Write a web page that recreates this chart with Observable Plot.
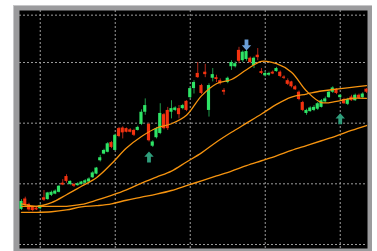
<!DOCTYPE html>
<html><head><meta charset="utf-8">
<script src="https://cdn.jsdelivr.net/npm/d3@7"></script>
<script src="https://cdn.jsdelivr.net/npm/@observablehq/plot@0.6"></script>
<style>
html,body{margin:0;padding:0;background:#fff;}
#wrap{position:relative;width:377px;height:251px;overflow:hidden;}
#frame{position:absolute;left:13px;top:5px;width:359px;height:250px;background:#9b9b9d;border-top:1px solid #c6c6c8;border-left:1px solid #c6c6c8;box-sizing:border-box;}
#chart{position:absolute;left:0;top:0;}
</style></head>
<body><div id="wrap"><div id="frame"></div><div id="chart"></div></div>
<script>
// OHLC per bar (bar index = position)
const opens = [105.8,107.5,106.6,106.2,106.0,105.9,107.7,107.4,108.1,108.3,
108.6,110.1,111.2,109.9,109.9,109.7,109.9,110.1,110.3,111.0,
111.6,113.8,114.9,115.2,116.8,115.5,119.1,119.2,119.1,118.9,
118.8,118.8,119.8,121.8,119.8,116.2,117.6,118.3,121.4,122.1,
121.8,122.1,122.4,122.4,123.6,124.2,125.7,128.2,126.2,128.4,
122.1,127.4,127.5,127.0,125.4,126.7,129.3,129.3,132.0,130.3,
130.5,130.7,129.5,131.2,128.5,127.8,127.9,128.4,128.5,128.4,
127.6,127.0,126.8,126.0,125.1,123.4,121.6,121.9,122.1,122.3,
122.6,123.5,124.2,125.1,125.6,124.2,123.9,123.1,124.3,123.7,
124.6,124.2,125.6];
const highs = [107.4,107.8,106.8,106.3,106.2,106.6,108.9,108.6,108.8,109.0,
109.7,110.7,111.5,110.5,110.1,110.2,110.4,110.7,111.0,112.0,
112.7,114.7,115.7,116.8,117.0,118.2,119.3,119.4,119.2,119.1,
119.0,119.5,122.2,124.0,120.0,117.1,119.3,123.2,121.6,122.6,
123.7,122.7,122.9,123.1,123.7,126.0,127.0,130.0,126.4,129.7,
126.5,129.0,127.9,127.3,125.7,127.6,130.3,130.1,132.5,131.9,
132.0,130.9,130.9,132.3,129.0,128.5,128.4,128.6,129.2,128.6,
127.8,127.3,126.9,126.2,125.3,123.6,122.3,122.7,122.9,123.4,
123.9,124.3,125.3,126.0,125.7,124.7,124.1,124.1,124.6,124.8,
124.8,125.0,125.7];
const lows = [105.6,106.3,105.5,105.4,105.6,105.7,107.1,107.3,107.9,108.2,
108.5,109.7,110.1,109.7,109.4,109.6,109.8,110.0,110.2,110.9,
111.5,113.6,114.8,115.1,115.8,115.4,117.6,117.4,118.4,118.4,
117.8,118.7,119.6,121.3,116.9,116.0,117.4,118.1,118.9,118.8,
120.7,121.9,120.7,122.2,121.9,124.0,124.8,127.4,124.7,127.5,
121.0,126.8,126.7,126.3,124.6,126.5,128.7,129.1,129.8,130.0,
130.2,129.8,129.0,130.3,128.0,127.6,127.7,128.0,128.4,127.5,
127.2,126.2,125.8,125.4,123.7,121.9,121.3,121.8,121.9,122.1,
122.5,123.3,124.1,124.9,124.7,124.0,123.1,122.9,123.6,123.6,
123.9,124.0,124.9];
const closes = [107.1,106.4,105.7,105.6,105.7,106.4,107.3,108.5,108.6,108.8,
109.6,109.8,110.4,110.4,109.6,110.0,110.3,110.5,110.8,111.8,
112.6,114.3,115.5,116.6,116.0,118.0,117.8,118.4,118.5,118.5,
118.0,119.3,121.8,122.9,117.1,116.9,119.1,121.6,119.1,119.1,
122.4,122.5,121.4,122.9,122.1,125.7,126.7,127.5,124.9,128.0,
126.2,128.0,127.2,126.5,125.1,127.4,130.0,129.8,130.2,131.7,
131.8,130.0,130.7,130.8,128.2,128.2,128.2,128.1,129.0,127.7,
127.4,126.4,126.0,125.5,123.9,122.1,122.1,122.5,122.6,123.2,
123.7,124.0,125.1,125.8,124.9,124.6,123.2,123.9,123.7,124.6,
124.1,124.8,125.1];

// Moving averages at every 4th bar
const maBars = [0,4,8,12,16,20,24,28,32,36,40,44,48,52,56,60,64,68,72,76,80,84,88,92];
const maFast = [106.7,106.3,106.9,108.2,109.6,111.0,113.3,115.9,117.8,119.2,119.9,121.3,124.5,126.5,127.2,128.8,130.2,129.8,128.4,125.3,123.4,123.6,124.1,124.1];
const maMid  = [106.3,106.3,106.3,106.3,106.6,107.3,108.1,109.0,110.1,111.1,112.1,113.6,115.1,116.9,118.5,120.0,121.5,123.1,124.3,124.8,125.3,125.6,125.9,126.2];
const maSlow = [105.3,105.3,105.4,105.7,106.2,106.4,106.7,107.3,107.8,108.3,108.9,109.7,110.5,111.3,112.1,113.0,113.8,114.6,115.5,116.3,117.1,117.9,118.8,119.6];

// Signal arrows
const upArrowBars = [34, 85];
const upArrowPrices = [114.4, 120.7];
const downArrowBars = [60];
const downArrowPrices = [132.9];

// Grid
const gridBars = [5, 25, 45, 65, 85];
const gridPrices = [100, 110, 120, 130, 137.8];
const xDomain = [-0.53, 92.27];
const yDomain = [99.34, 138.57];

const candles = opens.map((o, i) => ({i, o, h: highs[i], l: lows[i], c: closes[i]}));
const bulls = candles.filter(d => d.c >= d.o);
const bears = candles.filter(d => d.c < d.o);
const toLine = arr => maBars.map((b, k) => ({b, v: arr[k]}));

const arrowUp = {draw(ctx) {
  ctx.moveTo(0, -5.6); ctx.lineTo(4.7, -0.4); ctx.lineTo(1.9, -0.4); ctx.lineTo(1.9, 5.4);
  ctx.lineTo(-1.9, 5.4); ctx.lineTo(-1.9, -0.4); ctx.lineTo(-4.7, -0.4); ctx.closePath();
}};
const arrowDown = {draw(ctx) {
  ctx.moveTo(0, 5.6); ctx.lineTo(4.7, 0.4); ctx.lineTo(1.9, 0.4); ctx.lineTo(1.9, -5.4);
  ctx.lineTo(-1.9, -5.4); ctx.lineTo(-1.9, 0.4); ctx.lineTo(-4.7, 0.4); ctx.closePath();
}};

const orange = "#f5930f";
const chart = Plot.plot({
  width: 377, height: 251,
  marginLeft: 19, marginRight: 10, marginTop: 10, marginBottom: 3,
  style: {background: "transparent"},
  x: {domain: xDomain, axis: null},
  y: {domain: yDomain, axis: null},
  marks: [
    Plot.frame({fill: "#000", stroke: null}),
    Plot.ruleX(gridBars, {stroke: "#9c9c9c", strokeDasharray: "2,2"}),
    Plot.ruleY(gridPrices, {stroke: "#9c9c9c", strokeDasharray: "2,2"}),
    Plot.ruleX(bulls, {x: "i", y1: "l", y2: "h", stroke: "#1f9a4a"}),
    Plot.ruleX(bears, {x: "i", y1: "l", y2: "h", stroke: "#b3261a"}),
    Plot.rect(bulls, {x1: d => d.i - 0.42, x2: d => d.i + 0.42, y1: "o", y2: "c", fill: "#2ee566"}),
    Plot.rect(bears, {x1: d => d.i - 0.42, x2: d => d.i + 0.42, y1: "o", y2: "c", fill: "#f3320f"}),
    Plot.line(toLine(maSlow), {x: "b", y: "v", stroke: orange, strokeWidth: 1.4, curve: "catmull-rom"}),
    Plot.line(toLine(maMid), {x: "b", y: "v", stroke: orange, strokeWidth: 1.3, curve: "catmull-rom"}),
    Plot.line(toLine(maFast), {x: "b", y: "v", stroke: orange, strokeWidth: 1.3, curve: "catmull-rom"}),
    Plot.dot(upArrowBars.map((b, k) => ({b, v: upArrowPrices[k]})), {x: "b", y: "v", symbol: arrowUp, fill: "#2f9e7c", stroke: null}),
    Plot.dot(downArrowBars.map((b, k) => ({b, v: downArrowPrices[k]})), {x: "b", y: "v", symbol: arrowDown, fill: "#6a9ed6", stroke: null})
  ]
});
document.getElementById("chart").appendChild(chart);
</script>
</body></html>
